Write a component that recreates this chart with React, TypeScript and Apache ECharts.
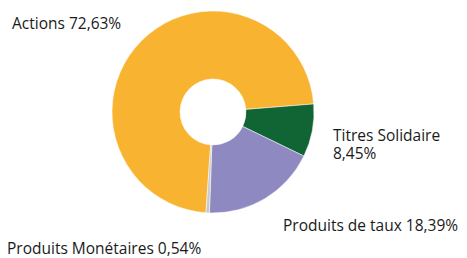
import React, { useEffect, useRef } from "react";
import * as echarts from "echarts";

const categories = ["Actions", "Titres Solidaire", "Produits de taux", "Produits Monétaires"];
const values = [72.63, 8.45, 18.39, 0.54];
const valueLabels = ["72,63%", "8,45%", "18,39%", "0,54%"];
const colors = ["#F8B431", "#116434", "#8F89C1", "#C9C9C9"];

const labelPositions = [
  { x: 12, y: 23 },
  { x: 333, y: 144 },
  { x: 283, y: 225 },
  { x: 7, y: 248 },
];

export default function App() {
  const ref = useRef<HTMLDivElement>(null);
  useEffect(() => {
    document.body.style.margin = "0";
    const chart = echarts.init(ref.current!, null, { renderer: "svg" });
    chart.setOption({
      animation: false,
      series: [
        {
          type: "pie",
          center: [213, 112],
          radius: [33, 101],
          startAngle: 266,
          clockwise: true,
          data: categories.map((c, i) => ({
            name: c,
            value: values[i],
            itemStyle: { color: colors[i] },
            label: { lineHeight: i === 1 ? 18 : 16 },
          })),
          itemStyle: { borderColor: "#ffffff", borderWidth: 0.5 },
          label: {
            show: true,
            position: "outside",
            color: "#1a1a1a",
            fontSize: 15.5,
            fontFamily: "Open Sans",
            overflow: "none",
            width: 300,
            formatter: (p: any) =>
              p.dataIndex === 1
                ? `${categories[p.dataIndex]}\n${valueLabels[p.dataIndex]}`
                : `${categories[p.dataIndex]} ${valueLabels[p.dataIndex]}`,
          },
          labelLine: { show: false },
          labelLayout: (p: any) => ({
            x: labelPositions[p.dataIndex].x,
            y: labelPositions[p.dataIndex].y,
            align: "left",
            verticalAlign: "middle",
            width: 300,
          }),
          emphasis: { disabled: true },
        },
      ],
    });
    return () => chart.dispose();
  }, []);
  return <div ref={ref} style={{ width: 467, height: 258 }} />;
}
